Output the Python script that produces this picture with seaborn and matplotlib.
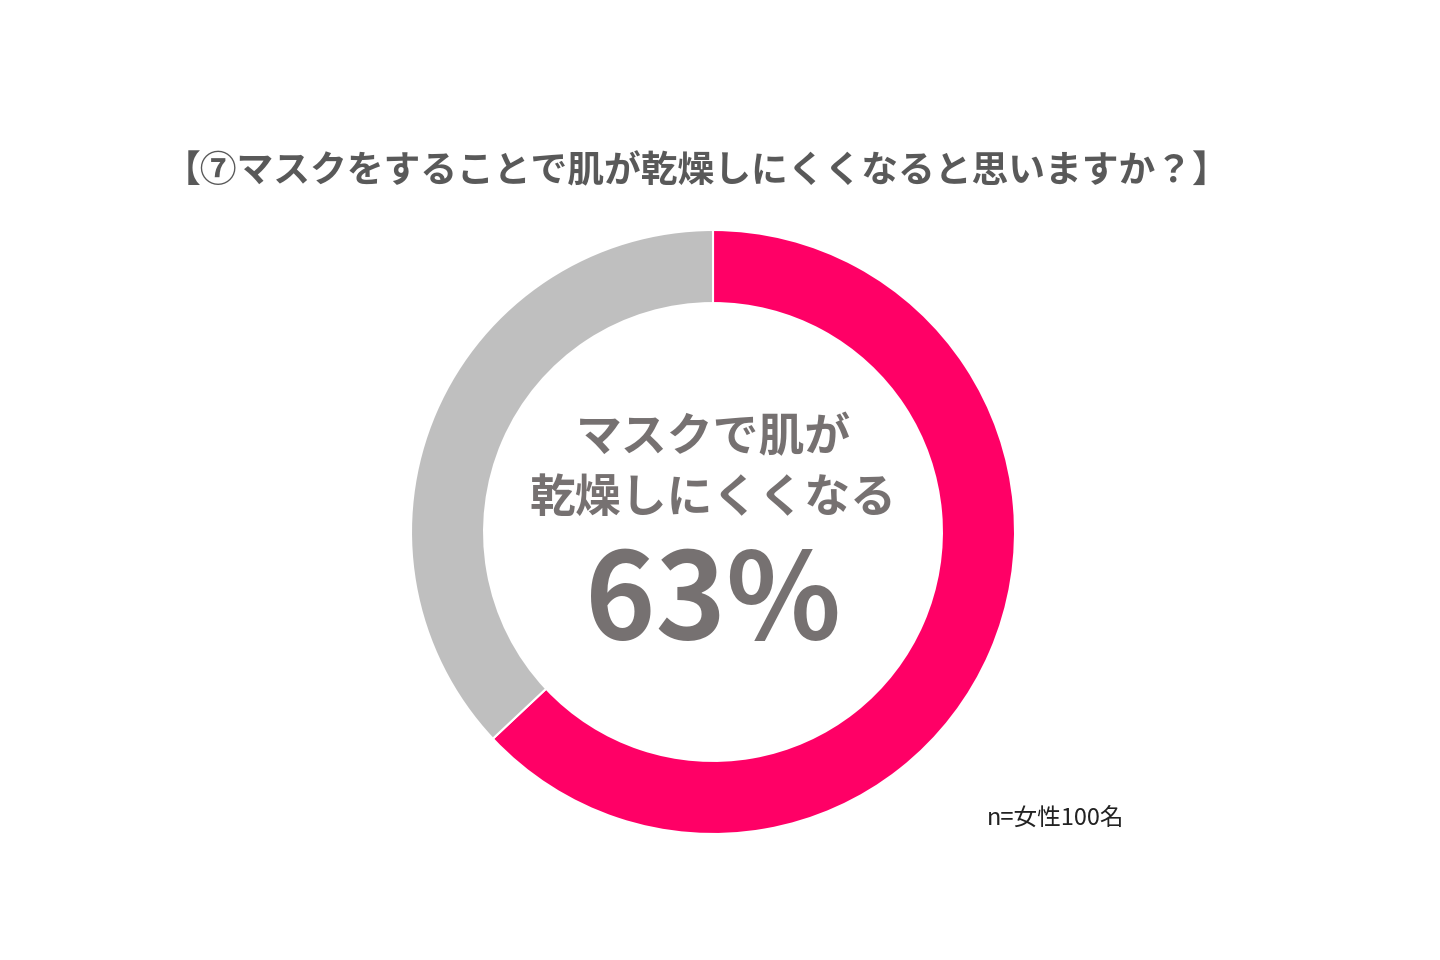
import matplotlib
matplotlib.use("Agg")
import matplotlib.pyplot as plt
import seaborn as sns

# Survey result
labels = ["乾燥しにくくなる", "そう思わない"]
values = [63, 37]
colors = ["#FF0066", "#BFBFBF"]

title = "【⑦マスクをすることで肌が乾燥しにくくなると思いますか？】"
center_label = "マスクで肌が\n乾燥しにくくなる"
center_value = "63%"
note = "n=女性100名"

sns.set_theme(style="white")
plt.rcParams['font.family'] = ['Noto Sans CJK JP', 'DejaVu Sans']

fig = plt.figure(figsize=(14.4, 9.6), dpi=100)
fig.patch.set_facecolor("white")

# donut centered at (713, 532) px with outer radius ~302 px
ax = fig.add_axes([411 / 1440, (960 - 532 - 302) / 960, 604 / 1440, 604 / 960])
ax.pie(values, colors=colors, startangle=90, counterclock=False, radius=1,
       wedgeprops=dict(width=0.242, edgecolor="white", linewidth=1.5))
ax.set_xlim(-1, 1)
ax.set_ylim(-1, 1)
ax.axis("off")

ax.text(0, 0.21, center_label, ha="center", va="center", fontsize=33,
        fontweight="bold", color="#767171", linespacing=1.4)
ax.text(0, -0.24, center_value, ha="center", va="center", fontsize=86,
        fontweight="bold", color="#767171")

fig.text(697 / 1440, 1 - 172 / 960, title, ha="center", va="center",
         fontsize=26.5, fontweight="bold", color="#595959")
fig.text(987 / 1440, 1 - 818 / 960, note, ha="left", va="center",
         fontsize=17, color="#222222")

fig.savefig("out.png", dpi=100, facecolor="white")
